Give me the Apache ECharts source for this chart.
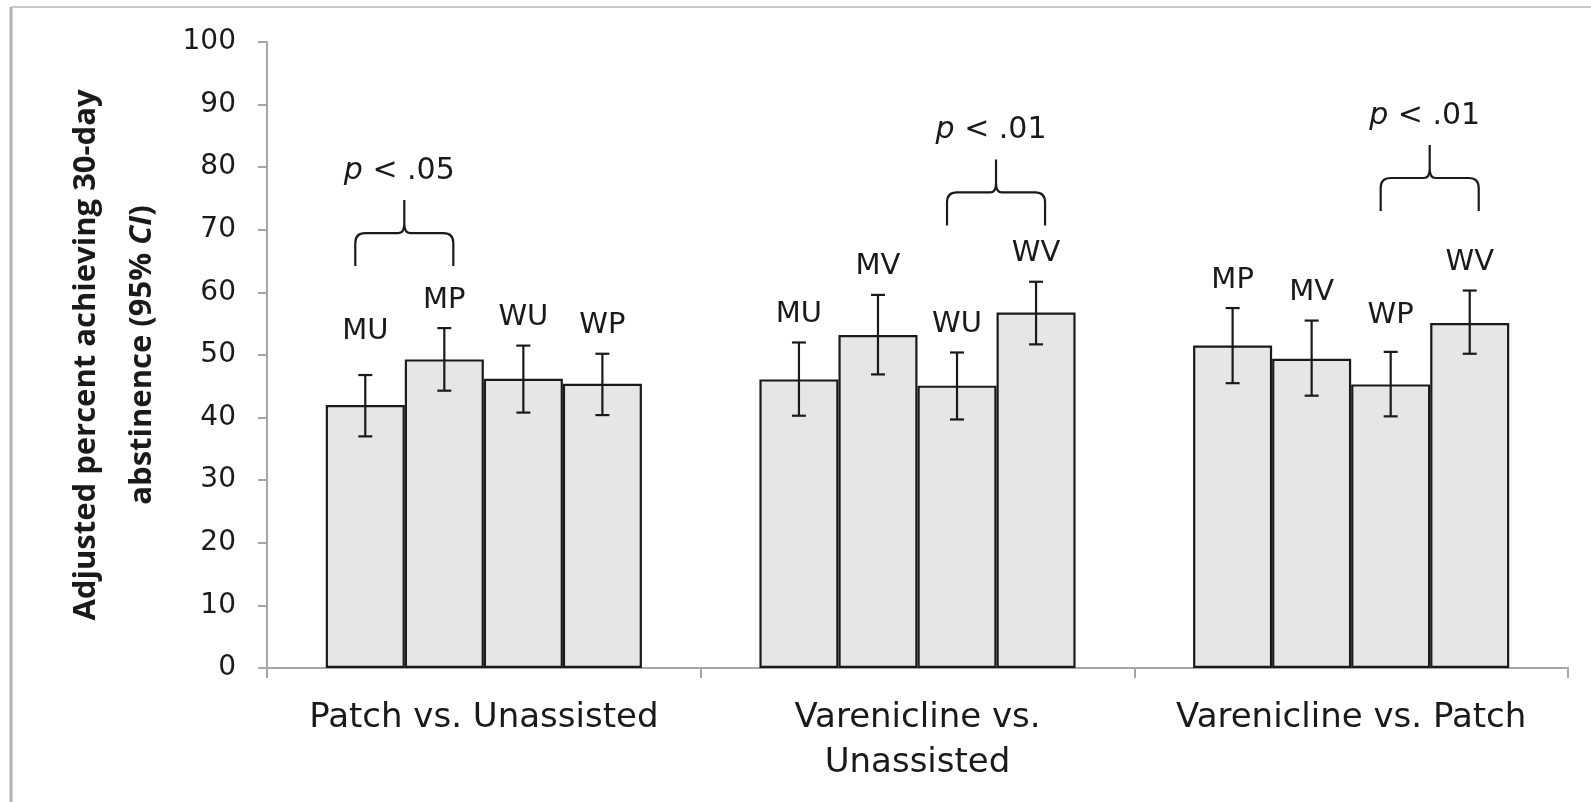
<!DOCTYPE html>
<html><head><meta charset="utf-8">
<script src="https://cdn.jsdelivr.net/npm/echarts@6/dist/echarts.min.js"></script>
<style>html,body{margin:0;padding:0;background:#fff}#c{width:1591px;height:802px}</style>
</head><body><div id="c"></div>
<script>
// ---- data ----
const categories = ['Patch vs. Unassisted', 'Varenicline vs.\nUnassisted', 'Varenicline vs. Patch'];
const barLabels = [['MU', 'MP', 'WU', 'WP'], ['MU', 'MV', 'WU', 'WV'], ['MP', 'MV', 'WP', 'WV']];
const means = [[42.0, 49.3, 46.2, 45.4], [46.1, 53.2, 45.1, 56.8], [51.5, 49.4, 45.3, 55.1]];
const lower = [[37.0, 44.3, 40.8, 40.4], [40.3, 46.9, 39.7, 51.7], [45.5, 43.5, 40.2, 50.2]];
const upper = [[46.8, 54.3, 51.5, 50.2], [52.0, 59.6, 50.4, 61.7], [57.5, 55.5, 50.5, 60.3]];
const yMin = 0, yMax = 100, yStep = 10;
const braceGroup = [0, 1, 2];
const braceFrom = [0, 2, 2];
const braceTo = [1, 3, 3];
const braceBase = [64.2, 70.7, 73.0];
const braceP = ['.05', '.01', '.01'];

// ---- styling ----
const FONT = 'DejaVu Sans';
const TFONT = 'Open Sans';
const GAP_FRAC = 0.271;
const INK = '#1a1a1a';
const LABEL_LIFT = 28;              // px between CI top and label centre
const LABEL_EXTRA = {'0-0': 16, '2-2': 8}; // hand placement of a few labels in the original

const chart = echarts.init(document.getElementById('c'), null, {renderer: 'canvas'});

function barCenterX(api, cat, pos) {
  const c = api.coord([cat, 0]);
  const band = api.size([1, 0])[0];
  const gw = band * (1 - GAP_FRAC);
  const bw = gw / 4;
  return c[0] - gw / 2 + (pos + 0.5) * bw;
}

const barSeries = [0, 1, 2, 3].map(i => ({
  type: 'bar',
  data: means.map(g => g[i]),
  barGap: '0%',
  barCategoryGap: (GAP_FRAC * 100) + '%',
  itemStyle: {color: '#e6e6e6', borderColor: INK, borderWidth: 2.2},
  emphasis: {disabled: true},
  z: 2
}));

const errData = [];
for (let g = 0; g < 3; g++) for (let i = 0; i < 4; i++) errData.push([g, i, lower[g][i], upper[g][i]]);

const errSeries = {
  type: 'custom',
  data: errData,
  z: 5,
  encode: {x: 0, y: [2, 3]},
  renderItem: function (params, api) {
    const cat = api.value(0), pos = api.value(1);
    const x = barCenterX(api, cat, pos);
    const yl = api.coord([cat, api.value(2)])[1];
    const yh = api.coord([cat, api.value(3)])[1];
    const cap = 7;
    const st = {stroke: INK, lineWidth: 2.2};
    const lift = LABEL_LIFT + (LABEL_EXTRA[cat + '-' + pos] || 0);
    return {
      type: 'group',
      children: [
        {type: 'line', shape: {x1: x, y1: yl, x2: x, y2: yh}, style: st},
        {type: 'line', shape: {x1: x - cap, y1: yl, x2: x + cap, y2: yl}, style: st},
        {type: 'line', shape: {x1: x - cap, y1: yh, x2: x + cap, y2: yh}, style: st},
        {type: 'text', x: x, y: yh - lift, style: {
          text: barLabels[cat][pos], fill: INK, font: '29px "' + FONT + '"',
          align: 'center', verticalAlign: 'middle'}}
      ]
    };
  }
};

const braceData = braceGroup.map((g, k) => [g, braceFrom[k], braceTo[k], braceBase[k], k]);
const braceSeries = {
  type: 'custom',
  data: braceData,
  z: 5,
  encode: {x: 0, y: 3},
  renderItem: function (params, api) {
    const cat = api.value(0);
    const k = api.value(4);
    const xL = barCenterX(api, cat, api.value(1)) - 10;
    const xR = barCenterX(api, cat, api.value(2)) + 9;
    const xm = (xL + xR) / 2;
    const yB = api.coord([cat, api.value(3)])[1];
    const yH = yB - 33;
    const yP = yH - 33;
    const r = 10;
    const path = 'M' + xL + ' ' + yB + ' L' + xL + ' ' + (yH + r) +
      ' Q' + xL + ' ' + yH + ' ' + (xL + r) + ' ' + yH +
      ' L' + (xm - 6) + ' ' + yH +
      ' Q' + xm + ' ' + yH + ' ' + xm + ' ' + (yH - 9) +
      ' L' + xm + ' ' + yP +
      ' M' + xm + ' ' + (yH - 9) +
      ' Q' + xm + ' ' + yH + ' ' + (xm + 6) + ' ' + yH +
      ' L' + (xR - r) + ' ' + yH +
      ' Q' + xR + ' ' + yH + ' ' + xR + ' ' + (yH + r) +
      ' L' + xR + ' ' + yB;
    return {
      type: 'group',
      children: [
        {type: 'path', shape: {pathData: path}, style: {stroke: INK, lineWidth: 2.2, fill: null}},
        {type: 'text', x: xm - 5, y: yP - 29, style: {
          text: '{i|p}{n|\u00a0< ' + braceP[k] + '}',
          align: 'center', verticalAlign: 'middle',
          rich: {
            i: {font: 'italic 30px "' + FONT + '"', fill: INK},
            n: {font: '30px "' + FONT + '"', fill: INK}
          }}}
      ]
    };
  }
};

chart.setOption({
  animation: false,
  backgroundColor: '#fff',
  grid: {left: 267, right: 23, top: 42, bottom: 134, containLabel: false},
  xAxis: {
    type: 'category',
    data: categories,
    axisLine: {lineStyle: {color: '#a6a6a6', width: 2}},
    axisTick: {show: true, length: 10, lineStyle: {color: '#a6a6a6', width: 2}},
    axisLabel: {color: INK, fontFamily: FONT, fontSize: 34, lineHeight: 45, margin: 28, interval: 0}
  },
  yAxis: {
    type: 'value',
    min: yMin, max: yMax, interval: yStep,
    splitLine: {show: false},
    axisLine: {show: true, lineStyle: {color: '#a6a6a6', width: 2}},
    axisTick: {show: true, length: 9, lineStyle: {color: '#a6a6a6', width: 2}},
    axisLabel: {color: INK, fontFamily: FONT, fontSize: 28, margin: 31},
    name: '{b|Adjusted percent achieving 30-day}\n{b|abstinence (95% }{bi|CI}{b|)}',
    nameLocation: 'middle',
    nameGap: 97,
    nameTextStyle: {
      lineHeight: 56,
      rich: {
        b: {fontFamily: TFONT, fontSize: 31, fontWeight: 'bold', color: INK, lineHeight: 56},
        bi: {fontFamily: TFONT, fontSize: 31, fontWeight: 'bold', fontStyle: 'italic', color: INK, lineHeight: 56}
      }
    }
  },
  graphic: [
    {type: 'line', shape: {x1: 11, y1: 7, x2: 1591, y2: 7}, style: {stroke: '#c8c8c8', lineWidth: 2}, silent: true},
    {type: 'line', shape: {x1: 11, y1: 7, x2: 11, y2: 802}, style: {stroke: '#b4b4b4', lineWidth: 3}, silent: true}
  ],
  series: barSeries.concat([errSeries, braceSeries])
});
</script>
</body></html>
